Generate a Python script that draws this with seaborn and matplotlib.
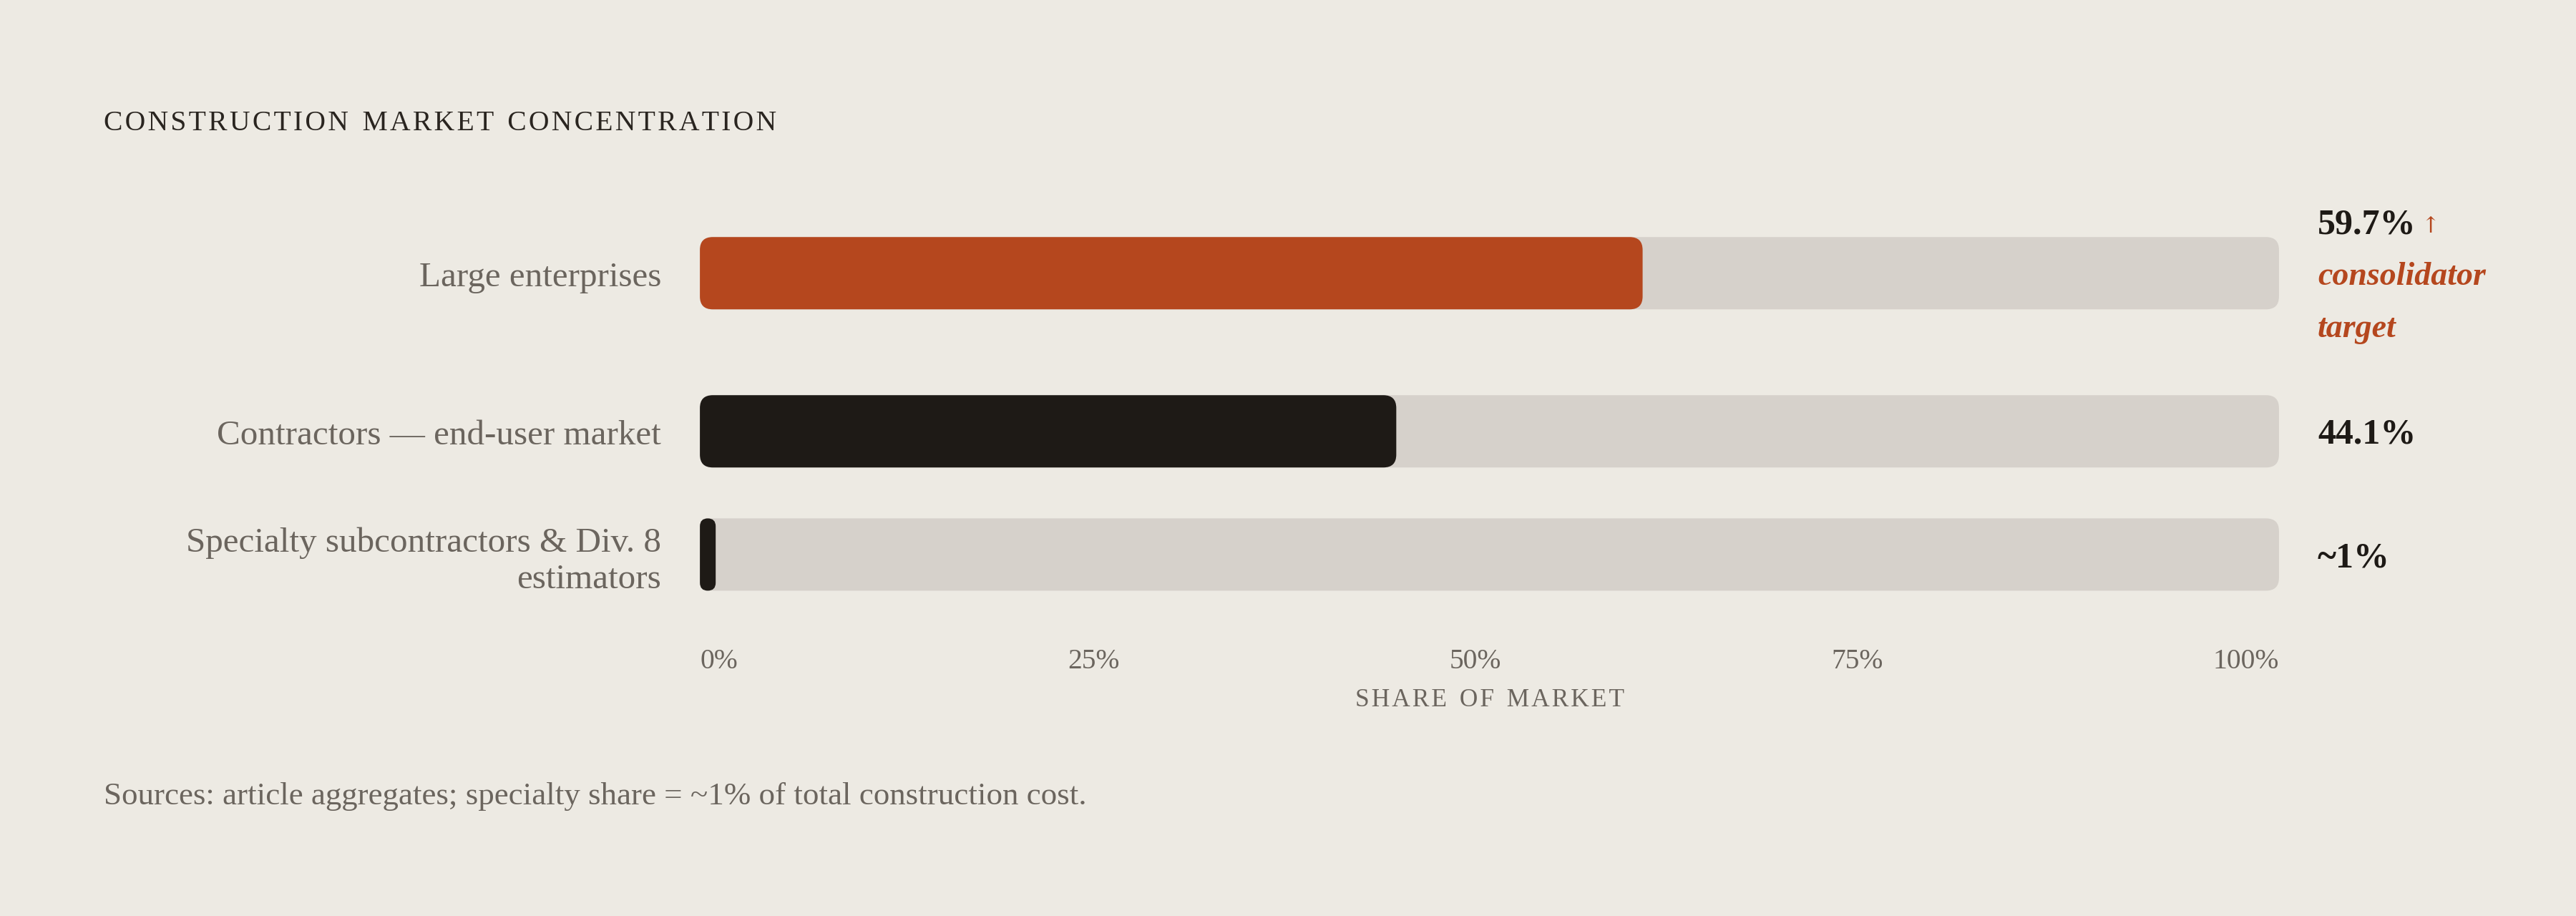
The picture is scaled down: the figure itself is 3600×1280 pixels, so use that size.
import numpy as np
import pandas as pd
import matplotlib
matplotlib.use("Agg")
import matplotlib.pyplot as plt
import seaborn as sns
from matplotlib.patches import FancyBboxPatch
import matplotlib.transforms as mtransforms

# ---------------- data ----------------
categories = ["Large enterprises",
              "Contractors \u2014 end-user market",
              "Specialty subcontractors & Div. 8\nestimators"]
shares = [59.7, 44.1, 1.0]
value_labels = ["59.7%", "44.1%", "~1%"]
bar_colors = ["#B5471E", "#1E1A16", "#1E1A16"]
track_total = [100, 100, 100]
tick_values = [0, 25, 50, 75, 100]
tick_labels = ["0%", "25%", "50%", "75%", "100%"]
title = "CONSTRUCTION MARKET CONCENTRATION"
axis_title = "SHARE OF MARKET"
note_lines = ["consolidator", "target"]
note_arrow = "\u2191"
source_note = "Sources: article aggregates; specialty share = ~1% of total construction cost."

# ---------------- style ----------------
BG = "#EDEAE3"
TRACK = "#D6D1CB"
DARK = "#1E1A16"
ACCENT = "#B5471E"
GREY = "#6B655E"
SERIF = ["Liberation Serif", "DejaVu Serif"]

sns.set_theme(style="white")
plt.rcParams["font.family"] = SERIF
plt.rcParams["figure.facecolor"] = BG
plt.rcParams["axes.facecolor"] = BG

W, H, DPI = 12.0, 4.27, 300
fig = plt.figure(figsize=(W, H), dpi=DPI)
fig.patch.set_facecolor(BG)

df = pd.DataFrame({"category": categories, "share": shares,
                   "total": track_total, "color": bar_colors})

left, right = 0.2717, 0.8847
# row bands (bottom, top) in figure fraction
bands = [(0.5959, 0.8065), (0.4615, 0.5959), (0.3271, 0.4615)]
bar_px = 44 * 3600 / 1568  # bar thickness in pixels


def spaced(s, sep="\u200a"):
    return sep.join(list(s)).replace(sep + " " + sep, "  ")


def round_bars(ax, r_px=18):
    bb = ax.get_position()
    ax_w = bb.width * W * DPI
    ax_h = bb.height * H * DPI
    x0, x1 = ax.get_xlim()
    y0, y1 = ax.get_ylim()
    xu = abs(x1 - x0) / ax_w
    yu = abs(y1 - y0) / ax_h
    aspect = yu / xu
    pats = list(ax.patches)
    for z, p in enumerate(pats):
        x, y = p.get_x(), p.get_y()
        w, h = p.get_width(), p.get_height()
        fc = p.get_facecolor()
        p.remove()
        r = min(r_px * xu, w / 2, (h / aspect) / 2)
        ax.add_patch(FancyBboxPatch((x, y), w, h,
                                    boxstyle=f"round,pad=0,rounding_size={r}",
                                    mutation_aspect=aspect, fc=fc, lw=0,
                                    zorder=2 + z))


axes = []
for i, (b0, b1) in enumerate(bands):
    ax = fig.add_axes([left, b0, right - left, b1 - b0])
    ax.set_facecolor(BG)
    band_px = (b1 - b0) * H * DPI
    wfrac = bar_px / band_px
    sub = df.iloc[[i]]
    sns.barplot(data=sub, x="total", y="category", orient="h", color=TRACK,
                saturation=1, width=wfrac, ax=ax)
    sns.barplot(data=sub, x="share", y="category", orient="h",
                color=sub["color"].iloc[0], saturation=1, width=wfrac, ax=ax)
    ax.set_xlim(0, 100)
    ax.set_ylim(0.5, -0.5)
    for s in ax.spines.values():
        s.set_visible(False)
    ax.set_xlabel("")
    ax.set_ylabel("")
    ax.tick_params(axis="y", length=0, pad=13, labelsize=11.8, labelcolor=GREY)
    for t in ax.get_yticklabels():
        t.set_linespacing(1.2)
    ax.set_xticks([])
    round_bars(ax)
    axes.append(ax)

# x tick labels, distributed edge to edge (space-between) under the track
ax3 = axes[-1]
ax3.set_xticks(tick_values, [""] * len(tick_values))
ax3.tick_params(axis="x", length=0)
fig.canvas.draw()
renderer = fig.canvas.get_renderer()
ax_px_w = (right - left) * W * DPI
tmp = [ax3.text(0, 0, lab, fontsize=9.5, transform=ax3.transAxes)
       for lab in tick_labels]
widths = [t.get_window_extent(renderer).width / ax_px_w for t in tmp]
for t in tmp:
    t.remove()
gap = (1 - sum(widths)) / (len(widths) - 1)
xpos = 0.0
trans = mtransforms.blended_transform_factory(ax3.transAxes, fig.transFigure)
for lab, wd in zip(tick_labels, widths):
    ax3.text(xpos, 0.2782, lab, transform=trans, ha="left", va="center",
             fontsize=9.5, color=GREY)
    xpos += wd + gap

# value labels
for i, ax in enumerate(axes):
    if i == 0:
        ax.annotate(value_labels[i], xy=(1, 0.5), xycoords="axes fraction",
                    xytext=(13, 16.3), textcoords="offset points",
                    ha="left", va="center", fontsize=12, fontweight="bold",
                    color=DARK)
        ax.annotate(note_arrow, xy=(1, 0.5), xycoords="axes fraction",
                    xytext=(47.5, 16.0), textcoords="offset points",
                    ha="left", va="center", fontsize=7.5, color=ACCENT,
                    family=["DejaVu Serif"])
        for k, line in enumerate(note_lines):
            ax.annotate(line, xy=(1, 0.5), xycoords="axes fraction",
                        xytext=(13, -1.1 - 17.4 * k), textcoords="offset points",
                        ha="left", va="center", fontsize=11,
                        fontweight="bold", fontstyle="italic", color=ACCENT)
    else:
        ax.annotate(value_labels[i], xy=(1, 0.5), xycoords="axes fraction",
                    xytext=(13, -1.0), textcoords="offset points",
                    ha="left", va="center", fontsize=12, fontweight="bold",
                    color=DARK)

# title, axis title, source
fig.text(0.0402, 0.8655, spaced(title), ha="left", va="center",
         fontsize=9.5, color="#2A2520")
fig.text((left + right) / 2, 0.2365, spaced(axis_title), ha="center",
         va="center", fontsize=8.5, color=GREY)
fig.text(0.0402, 0.131, source_note, ha="left", va="center",
         fontsize=10.8, color=GREY)

fig.savefig("out.png", dpi=DPI, facecolor=BG)
